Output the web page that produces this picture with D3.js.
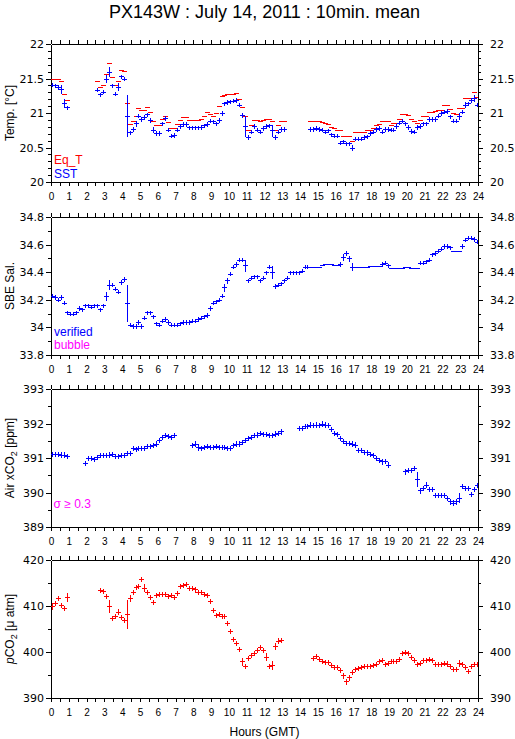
<!DOCTYPE html>
<html><head><meta charset="utf-8">
<script src="https://cdn.jsdelivr.net/npm/d3@7"></script>
<style>
body{margin:0;background:#fff}
svg{display:block}
.tl text{font-family:"DejaVu Sans",sans-serif;font-size:11px;fill:#000}
.xl text{font-family:"Liberation Sans",Arial,sans-serif;font-size:10px;fill:#000}
.ax path,.ax line{stroke:#000;stroke-width:1;shape-rendering:crispEdges}
</style>
</head><body><svg id="c" width="515" height="739"></svg>
<script>
const n = null;
const title = "PX143W : July 14, 2011 : 10min. mean";
const hourTicks = d3.range(0, 25);
const halfHourTicks = d3.range(0, 24.01, 0.5);

// 10-minute means, 6 per hour (index i -> time (i+0.5)/6 h)
const eqT = [
 21.50,21.50,21.49,21.47,21.28,21.19,
 n,n,n,n,n,n,
 n,n,n,21.47,21.38,21.41,
 21.57,21.72,21.52,21.41,21.46,21.63,
 21.61,21.14,20.84,20.89,20.96,21.07,
 21.04,21.05,21.09,21.02,20.89,20.83,
 20.82,20.91,20.96,20.87,20.78,20.78,
 20.84,20.90,20.94,20.94,20.90,20.90,
 20.90,20.90,20.91,20.96,21.02,20.99,
 20.96,21.00,21.10,21.24,21.26,21.28,
 21.28,21.28,21.29,21.21,21.09,20.95,
 20.76,20.82,20.90,20.90,20.89,20.90,
 20.92,20.92,20.88,20.76,20.82,20.88,
 20.88,n,n,n,n,n,
 n,n,n,20.88,20.88,20.89,
 20.89,20.87,20.86,20.84,20.80,20.78,
 20.76,20.76,20.67,20.67,20.67,20.60,
 20.72,20.72,20.72,20.72,20.76,20.76,
 20.78,20.82,20.84,20.88,20.89,20.89,
 20.83,20.86,20.86,20.91,20.99,20.99,
 20.97,20.91,20.88,20.86,20.90,20.96,
 20.96,21.02,21.02,21.03,21.05,21.05,
 21.11,21.11,21.06,21.00,20.99,21.07,
 21.07,21.22,21.22,21.22,21.30,21.23];
const sst = [
 21.41,21.40,21.38,21.35,21.15,21.08,
 n,n,n,n,n,n,
 n,n,n,21.34,21.27,21.31,
 21.50,21.60,21.40,21.28,21.38,21.53,
 21.50,20.96,20.72,20.77,20.85,20.96,
 20.91,20.94,20.98,20.90,20.76,20.71,
 20.71,20.85,20.93,20.76,20.67,20.68,
 20.76,20.81,20.84,20.84,20.79,20.79,
 20.79,20.79,20.80,20.82,20.84,20.89,
 20.88,20.85,20.90,21.00,21.14,21.16,
 21.17,21.18,21.19,21.12,20.97,20.81,
 20.65,20.73,20.81,20.76,20.73,20.78,
 20.81,20.82,20.75,20.65,20.73,20.77,
 20.77,n,n,n,n,n,
 n,n,n,20.77,20.77,20.78,
 20.77,20.76,20.73,20.75,20.69,20.67,
 20.67,20.57,20.59,20.56,20.56,20.50,
 20.63,20.63,20.63,20.65,20.66,20.71,
 20.73,20.77,20.78,20.73,20.77,20.77,
 20.76,20.76,20.81,20.86,20.89,20.85,
 20.80,20.74,20.73,20.80,20.81,20.85,
 20.85,20.91,20.91,20.91,20.96,21.00,
 21.02,21.03,20.95,20.89,20.89,20.96,
 21.02,21.12,21.14,21.19,21.22,21.12];
const sstErr = [[3,0.06],[4,0.06],[18,0.05],[19,0.06],[22,0.05],[25,0.30],[28,0.04],[34,0.04],[65,0.15],[74,0.08],[101,0.04],[137,0.04],[139,0.04],[142,0.04]];
const sal = [
 34.23,34.22,34.20,34.22,34.18,34.11,
 34.10,34.10,34.11,34.14,34.13,34.16,
 34.16,34.15,34.16,34.16,34.13,34.16,
 34.23,34.31,34.31,34.28,34.26,34.33,
 34.35,34.18,34.02,34.01,34.01,34.04,
 34.01,34.07,34.11,34.11,34.08,34.03,
 34.02,34.05,34.06,34.04,34.02,34.02,
 34.02,34.03,34.04,34.04,34.04,34.05,
 34.05,34.06,34.07,34.08,34.09,34.14,
 34.18,34.19,34.20,34.23,34.29,34.34,
 34.39,34.44,34.46,34.49,34.49,34.45,
 34.34,34.36,34.37,34.37,34.34,34.36,
 34.40,34.44,34.40,34.30,34.31,34.32,
 34.34,34.36,34.40,34.40,34.40,34.40,
 34.41,34.44,34.44,34.44,34.44,34.44,
 34.44,34.45,34.46,34.46,34.46,34.45,
 34.45,34.46,34.51,34.54,34.50,34.44,
 34.44,34.44,34.44,34.44,34.44,34.445,
 34.445,34.445,34.445,34.46,34.47,34.45,
 34.43,34.43,34.43,34.43,34.43,34.44,
 34.44,34.43,34.43,34.43,34.47,34.47,
 34.48,34.49,34.53,34.54,34.555,34.57,
 34.59,34.59,34.58,34.555,34.555,34.555,
 34.59,34.635,34.65,34.65,34.64,34.62];
const salErr = [[18,0.03],[19,0.03],[25,0.13],[58,0.025],[59,0.02],[65,0.04],[74,0.045],[98,0.025],[100,0.02],[101,0.025]];
const salFlat = [[87,96],[102,110],[114,123],[135,137]];
const xco2 = [
 391.11,391.12,391.12,391.10,391.10,391.05,
 n,n,n,n,n,390.86,
 391.01,391.01,390.98,391.03,391.08,391.08,
 391.08,391.10,391.12,391.06,391.06,391.08,
 391.08,391.15,391.15,391.29,391.25,391.29,
 391.29,391.29,391.34,391.35,391.37,391.42,
 391.53,391.61,391.66,391.63,391.61,391.66,
 n,n,n,n,n,391.37,
 391.42,391.32,391.30,391.32,391.34,391.32,
 391.32,391.34,391.32,391.32,391.32,391.29,
 391.29,391.37,391.42,391.42,391.46,391.51,
 391.58,391.61,391.66,391.68,391.72,391.70,
 391.70,391.67,391.66,391.71,391.73,391.77,
 n,n,n,n,n,391.86,
 391.86,391.93,391.93,391.97,391.95,391.97,
 391.95,392.00,391.97,391.96,391.85,391.73,
 391.69,391.59,391.49,391.44,391.44,391.42,
 391.39,391.22,391.22,391.17,391.16,391.11,
 391.08,391.01,390.93,390.90,390.92,390.81,
 n,n,n,n,n,390.61,
 390.64,390.64,390.71,390.40,390.06,390.13,
 390.23,390.09,390.09,389.94,389.94,389.94,
 389.92,389.84,389.74,389.71,389.74,389.85,
 390.18,390.14,390.13,389.96,390.11,390.21];
const xco2Err = [[49,0.08],[113,0.07],[123,0.20],[137,0.13],[141,0.06]];
const pco2 = [
 410.0,410.6,411.7,410.3,409.6,412.0,
 n,n,n,n,n,n,
 n,n,n,n,413.5,413.3,
 412.2,410.1,407.3,407.9,408.8,407.7,
 407.0,408.3,411.7,413.1,414.1,414.4,
 415.8,414.0,413.0,412.0,410.8,412.4,
 412.6,412.6,412.6,412.2,412.3,412.0,
 412.8,414.4,414.6,414.8,414.0,413.9,
 413.6,413.0,413.0,412.6,412.3,411.0,
 409.2,408.1,408.2,407.9,407.9,406.3,
 404.5,402.8,401.9,400.6,398.0,397.0,
 398.7,399.4,399.8,400.5,401.1,400.5,
 399.0,396.9,397.2,401.3,402.5,402.6,
 n,n,n,n,n,n,
 n,n,n,n,398.7,399.2,
 398.4,398.0,397.8,397.8,397.2,396.7,
 396.7,396.1,394.9,393.6,394.5,395.6,
 396.3,396.5,396.7,397.0,397.0,397.0,
 397.2,397.4,398.1,398.3,397.4,397.6,
 398.0,398.0,398.0,398.5,399.8,400.0,
 399.8,399.0,398.2,397.4,397.7,398.3,
 398.3,398.5,398.2,397.4,397.4,397.4,
 397.6,397.5,397.0,396.3,396.3,397.6,
 397.4,396.7,395.8,396.9,397.4,397.4];
const pco2Err = [[0,0.6],[5,0.9],[18,0.5],[19,1.3],[25,3.0],[26,0.6],[31,0.7],[64,0.8],[72,0.8],[74,0.9],[75,0.6],[99,0.6],[100,0.5],[137,0.6],[143,0.5]];

const temTicks = [20,20.5,21,21.5,22];
const salTicks = [33.8,34,34.2,34.4,34.6,34.8];
const xco2Ticks = [389,390,391,392,393];
const pco2Ticks = [390,400,410,420];

const svg = d3.select('#c');
svg.append('rect').attr('width',515).attr('height',739).attr('fill','#fff');
const x = d3.scaleLinear().domain([0,24]).range([51,478]);
const H = 138;
const fmt = d => String(+d.toFixed(2));

svg.append('text').attr('x',264.5).attr('y',17.5).attr('text-anchor','middle')
  .style('font-family','"Liberation Sans",Arial,sans-serif').style('font-size','18px').text(title);

function panel(top, domain, major, minorStep, idx) {
  const y = d3.scaleLinear().domain(domain).range([top+H, top]);
  const minor = d3.range(domain[0], domain[1]+minorStep/2, minorStep);
  const g = svg.append('g');
  g.append('g').attr('class','ax').attr('transform',`translate(0,${top})`)
    .call(d3.axisTop(x).tickValues(halfHourTicks).tickSize(4).tickSizeOuter(0).tickFormat(''));
  g.append('g').attr('class','ax').attr('transform',`translate(0,${top+H})`)
    .call(d3.axisBottom(x).tickValues(halfHourTicks).tickSize(4).tickSizeOuter(0).tickFormat(''));
  g.append('g').attr('class','ax xl').attr('transform',`translate(0,${top+H})`)
    .call(d3.axisBottom(x).tickValues(hourTicks).tickSize(4).tickSizeOuter(0).tickPadding(7).tickFormat(d3.format('d')))
    .call(s=>s.select('.domain').remove());
  g.append('g').attr('class','ax').attr('transform','translate(51,0)')
    .call(d3.axisLeft(y).tickValues(minor).tickSize(3).tickSizeOuter(0).tickFormat(''));
  g.append('g').attr('class','ax tl').attr('transform','translate(51,0)')
    .call(d3.axisLeft(y).tickValues(major).tickSize(5).tickSizeOuter(0).tickPadding(2).tickFormat(fmt))
    .call(s=>s.select('.domain').remove());
  g.append('g').attr('class','ax').attr('transform','translate(478,0)')
    .call(d3.axisRight(y).tickValues(minor).tickSize(3).tickSizeOuter(0).tickFormat(''));
  g.append('g').attr('class','ax tl').attr('transform','translate(478,0)')
    .call(d3.axisRight(y).tickValues(major).tickSize(5).tickSizeOuter(0).tickPadding(7).tickFormat(fmt))
    .call(s=>s.select('.domain').remove());
  g.selectAll('.xl text').attr('dy','0.71em');
  svg.append('clipPath').attr('id','cp'+idx).append('rect')
    .attr('x',51).attr('y',top).attr('width',427).attr('height',H);
  const data = svg.append('g').attr('clip-path',`url(#cp${idx})`);
  return {y, data};
}

// each mark: a horizontal bar (10-min slot) and a vertical bar (+/- std), drawn as pixel rects
function series(p, vals, color, defErr, ov, flat, halfW) {
  const errMap = new Map(ov || []);
  const isFlat = i => (flat||[]).some(r => i>=r[0] && i<=r[1]);
  const pts = vals.map((v,i)=>({i, v, e: errMap.has(i) ? errMap.get(i) : (isFlat(i) ? 0 : defErr)}))
    .filter(d => d.v != null);
  const g = p.data.append('g').attr('fill',color).style('shape-rendering','crispEdges');
  const cx = d => Math.round(x((d.i+0.5)/6));
  g.selectAll(null).data(pts).join('rect')
    .attr('x',d=>cx(d)-halfW).attr('width',2*halfW+1)
    .attr('y',d=>Math.round(p.y(d.v))).attr('height',1);
  g.selectAll(null).data(pts.filter(d=>d.e>0)).join('rect')
    .attr('x',cx).attr('width',1)
    .attr('y',d=>Math.round(p.y(d.v+d.e)))
    .attr('height',d=>Math.max(1, Math.round(p.y(d.v-d.e)) - Math.round(p.y(d.v+d.e)) + 1));
}

const p1 = panel(44, [20,22], temTicks, 0.1, 1);
const p2 = panel(217, [33.8,34.8], salTicks, 0.1, 2);
const p3 = panel(389, [389,393], xco2Ticks, 0.5, 3);
const p4 = panel(560, [390,420], pco2Ticks, 5, 4);

series(p1, eqT, '#ff0000', 0, null, null, 2);
series(p1, sst, '#0000ff', 0.025, sstErr, null, 2);
series(p2, sal, '#0000ff', 0.012, salErr, salFlat, 2);
series(p3, xco2, '#0000ff', 0.06, xco2Err, null, 2);
series(p4, pco2, '#ff0000', 0.45, pco2Err, null, 2);

const lf = '"Liberation Sans",Arial,sans-serif';
function ytitle(cy, build) {
  const t = svg.append('text').attr('transform',`translate(13.5,${cy}) rotate(-90)`)
    .attr('text-anchor','middle').style('font-family',lf).style('font-size','12px');
  build(t);
}
ytitle(44+H/2, t=>t.text('Temp. [°C]'));
ytitle(217+H/2, t=>t.text('SBE Sal.'));
ytitle(389+H/2, t=>{ t.append('tspan').text('Air xCO');
  t.append('tspan').attr('dy',3).style('font-size','9px').text('2');
  t.append('tspan').attr('dy',-3).text(' [ppm]'); });
ytitle(560+H/2, t=>{ t.append('tspan').style('font-style','italic').text('p');
  t.append('tspan').text('CO');
  t.append('tspan').attr('dy',3).style('font-size','9px').text('2');
  t.append('tspan').attr('dy',-3).text(' [μ atm]'); });

function legend(xp, yp, txt, color) {
  svg.append('text').attr('x',xp).attr('y',yp).attr('fill',color)
    .style('font-family',lf).style('font-size','12px').text(txt);
}
legend(54, 164, 'Eq_T', '#ff0000');
legend(54, 177.5, 'SST', '#0000ff');
legend(54, 336, 'verified', '#0000ff');
legend(54, 349, 'bubble', '#ff00ff');
legend(53.5, 508, 'σ ≥ 0.3', '#ff00ff');

svg.append('text').attr('x',264.5).attr('y',736).attr('text-anchor','middle')
  .style('font-family',lf).style('font-size','12px').text('Hours (GMT)');
</script>
</body></html>
